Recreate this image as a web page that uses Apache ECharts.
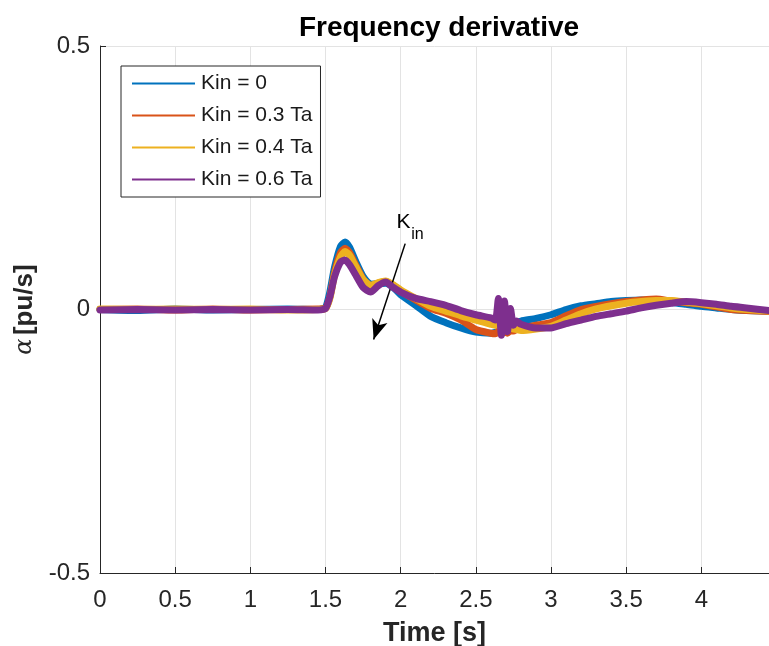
<!DOCTYPE html>
<html>
<head>
<meta charset="utf-8">
<title>Frequency derivative</title>
<script src="https://cdn.jsdelivr.net/npm/echarts@6/dist/echarts.min.js"></script>
<style>
  html, body { margin: 0; padding: 0; background: #ffffff; }
  #chart { width: 769px; height: 646px; }
</style>
</head>
<body>
<div id="chart"></div>
<script>
// Sample times [s] shared by every trace
const time = [0, 0.25, 0.5, 0.75, 1.0, 1.25, 1.45, 1.5, 1.53, 1.56, 1.6, 1.63, 1.66, 1.7, 1.75, 1.8, 1.85, 1.9, 1.95, 2.0, 2.1, 2.2, 2.3, 2.4, 2.5, 2.6, 2.63, 2.65, 2.67, 2.69, 2.71, 2.73, 2.75, 2.77, 2.8, 2.9, 3.0, 3.1, 3.2, 3.3, 3.4, 3.5, 3.6, 3.7, 3.8, 3.9, 4.0, 4.1, 4.2, 4.3, 4.45];

// Frequency derivative alpha [pu/s] for each inertia gain
const kin0 = [0.000, -0.002, 0.001, -0.001, 0.000, 0.001, 0.000, 0.004, 0.035, 0.080, 0.120, 0.128, 0.118, 0.092, 0.063, 0.048, 0.049, 0.050, 0.042, 0.028, 0.008, -0.013, -0.025, -0.035, -0.043, -0.045, -0.043, -0.042, -0.041, -0.039, -0.036, -0.033, -0.030, -0.026, -0.022, -0.017, -0.010, 0.000, 0.007, 0.011, 0.015, 0.017, 0.018, 0.017, 0.013, 0.010, 0.006, 0.003, 0.000, -0.002, -0.003];
const kin03 = [0.000, 0.001, -0.001, 0.001, -0.001, 0.000, 0.001, 0.002, 0.025, 0.070, 0.108, 0.116, 0.108, 0.085, 0.058, 0.045, 0.050, 0.053, 0.046, 0.035, 0.018, 0.002, -0.007, -0.020, -0.038, -0.045, -0.046, -0.041, -0.047, -0.042, -0.045, -0.040, -0.041, -0.038, -0.035, -0.030, -0.025, -0.012, 0.000, 0.006, 0.011, 0.015, 0.018, 0.020, 0.016, 0.013, 0.010, 0.005, 0.000, -0.002, -0.004];
const kin04 = [0.001, 0.000, 0.001, 0.000, 0.001, -0.001, 0.000, 0.002, 0.022, 0.065, 0.100, 0.110, 0.103, 0.082, 0.057, 0.046, 0.051, 0.054, 0.047, 0.037, 0.021, 0.006, -0.003, -0.012, -0.020, -0.028, -0.030, -0.026, -0.035, -0.029, -0.036, -0.034, -0.037, -0.038, -0.040, -0.037, -0.032, -0.020, -0.008, 0.001, 0.007, 0.012, 0.015, 0.017, 0.017, 0.014, 0.011, 0.007, 0.003, 0.000, -0.003];
const kin06 = [-0.001, 0.000, -0.001, 0.000, -0.001, 0.000, -0.001, 0.002, 0.025, 0.062, 0.090, 0.094, 0.085, 0.066, 0.042, 0.033, 0.045, 0.052, 0.042, 0.033, 0.021, 0.015, 0.008, -0.002, -0.010, -0.016, -0.020, 0.021, -0.049, 0.016, -0.042, 0.002, -0.030, -0.022, -0.028, -0.035, -0.035, -0.027, -0.020, -0.013, -0.008, -0.003, 0.003, 0.008, 0.012, 0.015, 0.013, 0.010, 0.006, 0.003, -0.002];

const seriesNames = ['Kin = 0', 'Kin = 0.3 Ta', 'Kin = 0.4 Ta', 'Kin = 0.6 Ta'];
const seriesColors = ['#0072BD', '#D95319', '#EDB120', '#7E2F8E'];
const seriesValues = [kin0, kin03, kin04, kin06];

// Tick values and annotation anchors (data space)
const xTicks = [0, 0.5, 1, 1.5, 2, 2.5, 3, 3.5, 4];
const yTicks = [-0.5, 0, 0.5];
const arrowFrom = [2.03, 0.125];
const arrowTo = [1.82, -0.057];
const labelK = [2.018, 0.165];
const labelIn = [2.112, 0.142];

const FONT = '"Liberation Sans", Arial, Helvetica, sans-serif';
const INK = '#262626';

const chart = echarts.init(document.getElementById('chart'), null, { renderer: 'canvas' });

const series = seriesValues.map((vals, i) => ({
  name: seriesNames[i],
  type: 'line',
  data: time.map((t, k) => [t, vals[k]]),
  symbol: 'none',
  smooth: 0.2,
  clip: true,
  z: 2 + i,
  lineStyle: { color: seriesColors[i], width: 7, join: 'round', cap: 'round' },
  itemStyle: { color: seriesColors[i] },
  emphasis: { disabled: true },
  animation: false
}));

// Arrow and "K_in" note drawn on top of the traces
series.push({
  name: 'annotation',
  type: 'line',
  data: [],
  z: 10,
  animation: false,
  markLine: {
    silent: true,
    symbol: ['none', 'arrow'],
    symbolSize: [12, 20],
    lineStyle: { color: '#000000', width: 1.5, type: 'solid' },
    label: { show: false },
    data: [[{ coord: arrowFrom }, { coord: arrowTo }]]
  },
  markPoint: {
    silent: true,
    symbol: 'circle',
    symbolSize: 0,
    data: [
      { coord: labelK, label: { show: true, formatter: 'K', fontSize: 21, color: '#000', fontFamily: FONT, position: 'inside' } },
      { coord: labelIn, label: { show: true, formatter: 'in', fontSize: 16, color: '#000', fontFamily: FONT, position: 'inside' } }
    ]
  }
});

chart.setOption({
  backgroundColor: '#ffffff',
  animation: false,
  title: {
    text: 'Frequency derivative',
    left: 434,
    textAlign: 'center',
    top: 9,
    textStyle: { fontFamily: FONT, fontWeight: 'bold', fontSize: 28, color: '#000000' }
  },
  grid: { left: 100, right: 0, top: 46, bottom: 73, containLabel: false, outerBoundsMode: 'none' },
  legend: {
    data: seriesNames,
    orient: 'vertical',
    left: 121,
    top: 66,
    itemWidth: 63,
    itemHeight: 2,
    itemGap: 11,
    icon: 'rect',
    padding: [7, 8, 7, 11],
    backgroundColor: '#ffffff',
    borderColor: INK,
    borderWidth: 1,
    textStyle: { fontFamily: FONT, fontSize: 21, color: '#1a1a1a', padding: [0, 0, 0, 1] },
    selectedMode: false
  },
  xAxis: {
    type: 'value',
    min: 0,
    max: 4.45,
    interval: 0.5,
    name: 'Time [s]',
    nameLocation: 'middle',
    nameGap: 47,
    nameTextStyle: { fontFamily: FONT, fontWeight: 'bold', fontSize: 27, color: INK },
    axisLine: { show: true, onZero: false, lineStyle: { color: INK, width: 1 } },
    axisTick: { show: true, inside: true, length: 6, lineStyle: { color: INK } },
    axisLabel: {
      showMaxLabel: false,
      margin: 15,
      fontFamily: FONT,
      fontSize: 24,
      color: INK,
      formatter: v => (xTicks.indexOf(v) >= 0 ? String(v) : '')
    },
    splitLine: { show: true, lineStyle: { color: '#e3e3e3', width: 1 } }
  },
  yAxis: {
    type: 'value',
    min: -0.5,
    max: 0.5,
    interval: 0.5,
    name: '{a|α} {b|[pu/s]}',
    nameLocation: 'middle',
    nameRotate: 90,
    nameGap: 43,
    nameTextStyle: {
      rich: {
        a: { fontFamily: '"DejaVu Serif", "Liberation Serif", serif', fontStyle: 'italic', fontSize: 24, color: INK },
        b: { fontFamily: FONT, fontWeight: 'bold', fontSize: 26, color: INK }
      }
    },
    axisLine: { show: true, onZero: false, lineStyle: { color: INK, width: 1 } },
    axisTick: { show: true, inside: true, length: 6, lineStyle: { color: INK } },
    axisLabel: {
      margin: 10,
      fontFamily: FONT,
      fontSize: 24,
      color: INK,
      formatter: v => (yTicks.indexOf(v) >= 0 ? String(v) : '')
    },
    splitLine: { show: true, lineStyle: { color: '#e3e3e3', width: 1 } }
  },
  series: series
});
</script>
</body>
</html>
